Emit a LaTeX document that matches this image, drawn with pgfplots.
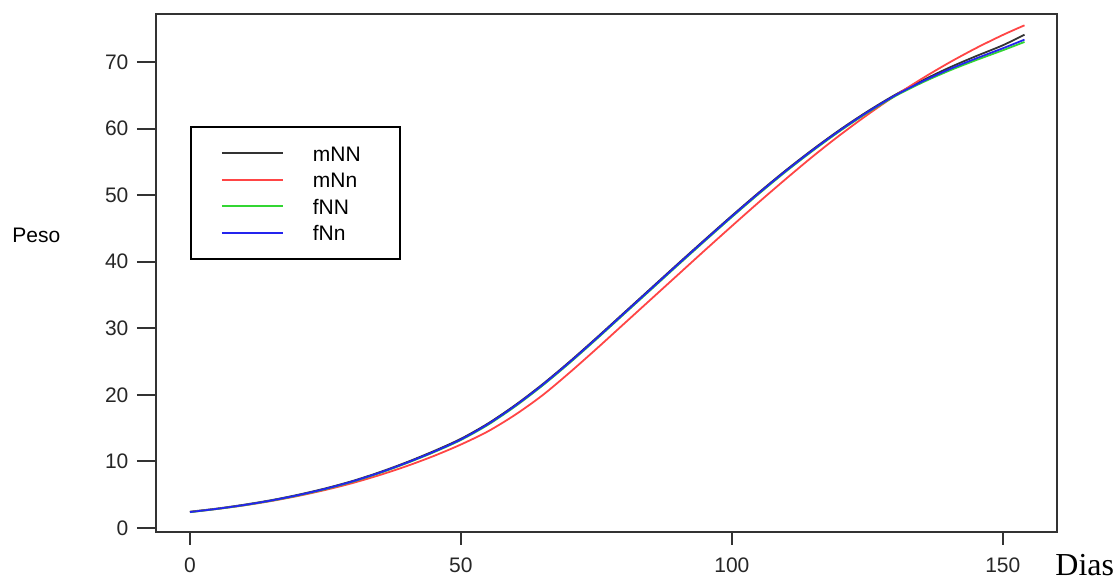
\documentclass[border=0pt]{standalone}
\usepackage{pgfplots}
\pgfplotsset{compat=1.18}
\usepackage{pgfplotstable}
\usepackage{fontspec}
\setmainfont{Liberation Sans}
\newfontfamily\seriffont{Liberation Serif}
\definecolor{cblack}{HTML}{333333}
\definecolor{cred}{HTML}{FF4545}
\definecolor{cgreen}{HTML}{33D633}
\definecolor{cblue}{HTML}{2424EE}
\pgfplotstableread{
x mNN mNn fNN fNn
0 2.45 2.40 2.38 2.40
5 2.92 2.86 2.86 2.88
10 3.50 3.40 3.42 3.45
15 4.18 4.05 4.10 4.13
20 5.00 4.82 4.90 4.94
25 5.95 5.72 5.84 5.89
30 7.06 6.75 6.95 7.00
35 8.38 7.95 8.25 8.31
40 9.88 9.30 9.74 9.80
45 11.55 10.82 11.38 11.45
50 13.40 12.54 13.22 13.30
55 15.70 14.52 15.50 15.60
60 18.45 17.00 18.25 18.35
65 21.55 19.90 21.35 21.45
70 24.95 23.30 24.75 24.85
75 28.55 26.90 28.35 28.45
80 32.25 30.60 32.05 32.15
85 35.95 34.30 35.75 35.85
90 39.65 38.00 39.45 39.55
95 43.30 41.70 43.10 43.20
100 46.90 45.35 46.70 46.80
105 50.40 48.95 50.20 50.30
110 53.75 52.45 53.55 53.65
115 56.90 55.85 56.70 56.80
120 59.85 59.05 59.65 59.75
125 62.55 62.05 62.35 62.45
130 65.00 64.85 64.80 64.90
135 67.15 67.45 66.85 67.00
140 69.10 69.85 68.65 68.85
145 70.85 72.05 70.25 70.50
150 72.50 74.05 71.75 72.05
154 74.10 75.50 73.00 73.35
}\datatable
\begin{document}
\begin{tikzpicture}
\path[use as bounding box] (-78pt,-25pt) rectangle (479pt,266pt);
\begin{axis}[
  at={(0pt,0pt)}, anchor=south west,
  scale only axis, width=450.5pt, height=259pt,
  clip mode=individual,
  xmin=-6.27, xmax=160.0, ymin=-0.6, ymax=77.2,
  xtick={0,50,100,150}, ytick={0,10,...,70},
  tick align=outside,
  xtick pos=bottom, ytick pos=left,
  xtick style={/pgfplots/major tick length=6.5pt},
  ytick style={/pgfplots/major tick length=9.5pt},
  every tick/.style={cblack, line width=1pt},
  axis line style={line width=1pt, cblack},
  ticklabel style={font=\fontsize{10.5}{12}\selectfont, text=black!85},
  /pgf/number format/assume math mode=true,
  xticklabel style={yshift=-5pt},
  yticklabel style={xshift=-6pt},
  legend cell align=left,
  legend image code/.code={\draw[#1, line width=1pt] (0pt,0pt) -- (30.5pt,0pt);},
  legend style={at={(rel axis cs:0.0377,0.7838)}, anchor=north west,
    draw=black, line width=0.9pt, inner xsep=15pt, inner ysep=8.25pt,
    row sep=3.2pt,
    font=\fontsize{10.5}{12}\selectfont,
    nodes={inner sep=0pt, text height=9pt, text depth=1pt},
    /tikz/every odd column/.append style={column sep=14.5pt}},
]
\addplot[cblack, line width=0.9pt, smooth] table[x=x, y=mNN] {\datatable};
\addlegendentry{\makebox[28.5pt][l]{mNN}}
\addplot[cred, line width=0.9pt, smooth] table[x=x, y=mNn] {\datatable};
\addlegendentry{\makebox[28.5pt][l]{mNn}}
\addplot[cgreen, line width=0.9pt, smooth] table[x=x, y=fNN] {\datatable};
\addlegendentry{\makebox[28.5pt][l]{fNN}}
\addplot[cblue, line width=0.9pt, smooth] table[x=x, y=fNn] {\datatable};
\addlegendentry{\makebox[28.5pt][l]{fNn}}
\node[anchor=west, inner sep=0pt, font=\fontsize{10.5}{12}\selectfont] at (rel axis cs:-0.1598,0.5734) {Peso};
\node[anchor=base west, inner sep=0pt, font=\seriffont\fontsize{16}{18}\selectfont] at (rel axis cs:0.9978,-0.0849) {Dias};
\end{axis}
\end{tikzpicture}
\end{document}
